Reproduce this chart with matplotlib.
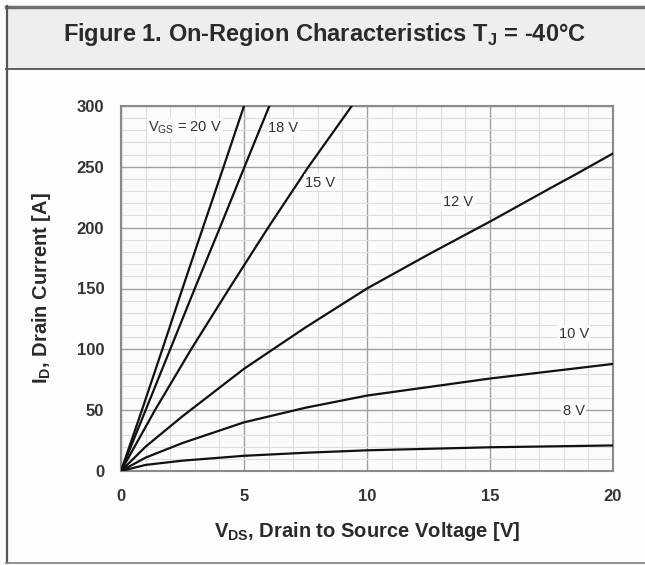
import numpy as np
import matplotlib.pyplot as plt
from matplotlib.patches import Rectangle
from matplotlib.lines import Line2D
from matplotlib.ticker import MultipleLocator

plt.rcParams['font.family'] = ['Liberation Sans', 'DejaVu Sans']

# --- Output characteristics, Tj = -40 C ---
vds_20 = [0, 0.85, 1.68, 2.5, 3.33, 4.17, 5.0]
id_20 = [0, 50, 100, 150, 200, 250, 300]

vds_18 = [0, 1.0, 2.0, 3.0, 4.02, 5.02, 6.03]
id_18 = [0, 50, 100, 150, 200, 250, 300]

vds_15 = [0, 1.38, 2.85, 4.4, 5.98, 7.62, 9.38]
id_15 = [0, 50, 100, 150, 200, 250, 300]

vds_12 = [0, 1, 2.5, 5, 7.5, 10, 12.5, 15, 17.5, 18.5, 20]
id_12 = [0, 20, 45, 84, 118, 150, 178, 205, 233, 244, 261]

vds_10 = [0, 1, 2.5, 5, 7.5, 10, 12.5, 15, 17.5, 20]
id_10 = [0, 11, 23, 40, 52, 62, 69, 76, 82, 88]

vds_8 = [0, 1, 2.5, 5, 7.5, 10, 15, 20]
id_8 = [0, 5, 8.5, 12.5, 15, 17, 19.5, 21]

curves = [(vds_20, id_20), (vds_18, id_18), (vds_15, id_15),
          (vds_12, id_12), (vds_10, id_10), (vds_8, id_8)]

# curve labels: (text, V, I)
labels = [(r'V$_{\mathregular{GS}}$ = 20 V', 2.6, 282),
          ('18 V', 6.6, 282),
          ('15 V', 8.1, 237),
          ('12 V', 13.7, 221),
          ('10 V', 18.4, 113),
          ('8 V', 18.4, 49)]

W, H = 645, 565
fig = plt.figure(figsize=(W / 100, H / 100), dpi=100, facecolor='#fdfdfd')

# title panel and outer frame
fig.patches.append(Rectangle((6 / W, (H - 69) / H), 1 - 6 / W, 62 / H,
                             transform=fig.transFigure, facecolor='#eeeeee',
                             edgecolor='none', zorder=0))
fig.lines.append(Line2D([6 / W, 1], [(H - 7) / H] * 2, transform=fig.transFigure,
                        color='#707070', lw=2.5))
fig.lines.append(Line2D([6 / W, 1], [(H - 69) / H] * 2, transform=fig.transFigure,
                        color='#555555', lw=1.3))
fig.lines.append(Line2D([7 / W] * 2, [2 / H, (H - 6) / H], transform=fig.transFigure,
                        color='#555555', lw=1.6))
fig.lines.append(Line2D([6 / W, 1], [2 / H] * 2, transform=fig.transFigure,
                        color='#888888', lw=1.3))

fig.text(325 / W, (H - 35) / H,
         r'Figure 1. On-Region Characteristics T$_{\mathregular{J}}$ = -40°C',
         ha='center', va='center', fontsize=17, fontweight='bold', color='#2a2a2a')

ax = fig.add_axes([121 / W, (H - 471) / H, 492 / W, 365 / H])
ax.set_facecolor('#fbfbfb')

for v, i in curves:
    ax.plot(v, i, color='#111111', lw=1.6, zorder=3)

for txt, x, y in labels:
    ax.text(x, y, txt, ha='center', va='center', fontsize=10.5, color='#333333',
            zorder=4, bbox=dict(facecolor='#fbfbfb', edgecolor='none', pad=1.0))

ax.set_xlim(0, 20)
ax.set_ylim(0, 300)
ax.xaxis.set_major_locator(MultipleLocator(5))
ax.xaxis.set_minor_locator(MultipleLocator(1))
ax.yaxis.set_major_locator(MultipleLocator(50))
ax.yaxis.set_minor_locator(MultipleLocator(10))
ax.grid(which='major', color='#a0a0a0', lw=1.0)
ax.grid(which='minor', color='#dedede', lw=0.8)
ax.set_axisbelow(True)
ax.tick_params(which='both', length=0)
ax.tick_params(axis='x', pad=13)
ax.tick_params(axis='y', pad=12)
for lab in ax.get_xticklabels() + ax.get_yticklabels():
    lab.set_fontweight('bold')
    lab.set_fontsize(12)
    lab.set_color('#333333')
for sp in ax.spines.values():
    sp.set_color('#8a8a8a')
    sp.set_linewidth(1.5)

ax.set_xlabel(r'V$_{\mathregular{DS}}$, Drain to Source Voltage [V]',
              fontsize=14.5, fontweight='bold', color='#2a2a2a')
ax.set_ylabel(r'I$_{\mathregular{D}}$, Drain Current [A]',
              fontsize=14.5, fontweight='bold', color='#2a2a2a')
ax.xaxis.set_label_coords(0.5, -0.135)
ax.yaxis.set_label_coords(-0.138, 0.5)

fig.savefig('out.png', dpi=100, facecolor=fig.get_facecolor())
